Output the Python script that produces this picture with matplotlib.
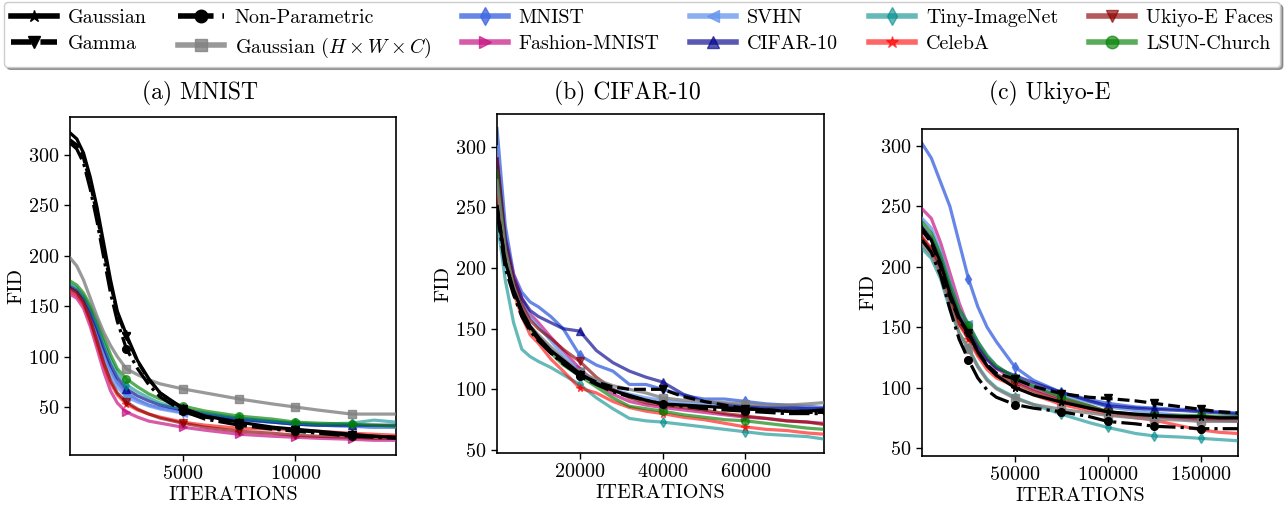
import matplotlib
matplotlib.use("Agg")
import matplotlib.pyplot as plt
from matplotlib.lines import Line2D

plt.rcParams["font.family"] = "serif"
plt.rcParams["font.serif"] = ["cmr10"]
plt.rcParams["mathtext.fontset"] = "cm"
plt.rcParams["axes.formatter.use_mathtext"] = True

# ---- data ----
labels = ["Gaussian", "Gamma", "Non-Parametric", r"Gaussian ($H \times W \times C$)",
          "MNIST", "Fashion-MNIST", "SVHN", "CIFAR-10",
          "Tiny-ImageNet", "CelebA", "Ukiyo-E Faces", "LSUN-Church"]

# (a) MNIST
xa = [0, 300, 600, 900, 1200, 1500, 1800, 2100, 2500, 3000, 3500, 4000, 5000, 6000,
      7500, 9000, 10000, 11000, 12500, 13500, 14470]
gauss_a = [322, 316, 302, 278, 248, 212, 176, 145, 122, 96, 78, 64, 49, 41, 35, 30, 28, 26, 23, 21, 20]
gamma_a = [315, 310, 297, 272, 240, 205, 172, 143, 120, 95, 77, 64, 48, 40, 34, 29, 27, 25, 22, 21, 20]
nonpar_a = [312, 306, 292, 266, 234, 198, 163, 135, 108, 88, 72, 60, 46, 38, 32, 28, 26, 24, 21, 20, 19]
hwc_a = [198, 190, 176, 158, 140, 124, 111, 100, 88, 82, 77, 73, 68, 64, 58, 53, 50, 47, 43, 43, 43]
mnist_a = [168, 164, 156, 142, 124, 104, 87, 74, 64, 57, 52, 49, 45, 42, 38, 35, 33, 32, 31, 30, 30]
fashion_a = [162, 158, 148, 130, 108, 85, 66, 54, 45, 40, 36, 34, 30, 27, 23, 21, 20, 19, 18, 17, 17]
svhn_a = [166, 162, 154, 139, 120, 100, 82, 70, 60, 55, 51, 48, 44, 41, 37, 35, 33, 32, 31, 30, 30]
cifar_a = [170, 166, 158, 145, 128, 109, 92, 79, 68, 61, 56, 52, 47, 43, 38, 35, 33, 32, 32, 32, 32]
tiny_a = [172, 168, 160, 148, 132, 114, 97, 84, 72, 65, 59, 54, 48, 44, 39, 36, 34, 33, 34, 37, 35]
celeba_a = [165, 161, 152, 135, 113, 92, 74, 62, 53, 47, 43, 40, 35, 32, 29, 28, 27, 26, 24, 23, 22]
ukiyo_a = [168, 164, 154, 137, 116, 94, 76, 64, 55, 48, 43, 39, 34, 30, 26, 24, 22, 21, 20, 19, 19]
lsun_a = [175, 171, 163, 151, 136, 119, 102, 88, 78, 70, 63, 58, 51, 46, 41, 38, 35, 34, 33, 32, 31]

# (b) CIFAR-10
xb = [0, 2000, 4000, 6000, 8000, 10000, 13000, 16000, 20000, 24000, 28000, 32000, 36000,
      40000, 45000, 50000, 55000, 60000, 65000, 70000, 75000, 79000]
gauss_b = [250, 205, 182, 165, 152, 143, 132, 124, 113, 105, 99, 95, 91, 88, 87, 86, 85, 84, 83, 82, 82, 83]
gamma_b = [252, 205, 180, 163, 150, 141, 130, 122, 112, 106, 102, 100, 100, 100, 94, 90, 87, 84, 83, 82, 81, 81]
nonpar_b = [246, 200, 178, 160, 148, 140, 130, 121, 111, 104, 98, 94, 91, 88, 86, 84, 83, 82, 81, 80, 80, 80]
hwc_b = [272, 215, 185, 165, 152, 145, 135, 125, 114, 108, 103, 100, 97, 93, 91, 90, 89, 88, 87, 87, 88, 89]
mnist_b = [315, 235, 195, 180, 172, 168, 160, 150, 128, 120, 115, 104, 104, 100, 95, 92, 92, 90, 88, 87, 86, 85]
fashion_b = [295, 225, 195, 175, 162, 155, 143, 132, 117, 105, 96, 90, 87, 85, 83, 81, 79, 77, 76, 74, 73, 72]
svhn_b = [300, 225, 192, 172, 160, 152, 140, 128, 115, 106, 100, 96, 93, 91, 89, 88, 87, 86, 85, 84, 84, 83]
cifar_b = [290, 225, 192, 175, 165, 160, 155, 150, 148, 132, 122, 115, 110, 106, 96, 90, 88, 86, 85, 85, 84, 84]
tiny_b = [240, 190, 155, 133, 127, 123, 118, 112, 104, 93, 84, 76, 74, 73, 71, 69, 67, 65, 63, 62, 61, 59]
celeba_b = [265, 210, 180, 160, 145, 138, 125, 115, 101, 97, 90, 85, 82, 80, 77, 75, 72, 69, 67, 66, 64, 63]
ukiyo_b = [290, 220, 190, 170, 157, 150, 142, 133, 123, 110, 100, 93, 89, 87, 85, 83, 80, 78, 76, 74, 73, 71]
lsun_b = [280, 215, 185, 165, 150, 142, 130, 120, 111, 102, 93, 86, 84, 82, 79, 77, 75, 74, 72, 70, 68, 67]

# (c) Ukiyo-E
xc = [0, 5000, 10000, 15000, 20000, 25000, 30000, 35000, 40000, 50000, 60000, 75000,
      90000, 100000, 115000, 125000, 140000, 150000, 160000, 170000]
gauss_c = [232, 222, 203, 178, 158, 145, 130, 118, 110, 100, 94, 88, 83, 80, 78, 77, 76, 76, 75, 75]
gamma_c = [230, 220, 200, 175, 156, 145, 130, 119, 112, 107, 101, 95, 92, 91, 89, 87, 84, 82, 80, 79]
nonpar_c = [222, 212, 193, 165, 140, 123, 108, 98, 92, 86, 83, 80, 76, 72, 70, 68, 67, 66, 66, 66]
hwc_c = [218, 210, 193, 168, 145, 132, 117, 106, 99, 91, 86, 82, 79, 77, 75, 74, 73, 72, 72, 72]
mnist_c = [302, 290, 270, 250, 220, 190, 167, 150, 138, 117, 106, 96, 90, 87, 84, 83, 82, 81, 80, 79]
fashion_c = [248, 240, 220, 195, 170, 150, 135, 124, 116, 106, 99, 91, 85, 80, 77, 76, 74, 73, 73, 72]
svhn_c = [240, 232, 213, 188, 165, 153, 138, 127, 118, 108, 101, 94, 88, 84, 81, 79, 77, 76, 75, 75]
cifar_c = [233, 224, 206, 182, 160, 148, 134, 123, 116, 110, 104, 96, 89, 85, 83, 82, 81, 80, 79, 78]
tiny_c = [215, 207, 190, 165, 145, 133, 118, 107, 100, 92, 86, 78, 71, 67, 62, 60, 59, 58, 57, 56]
celeba_c = [225, 215, 197, 172, 152, 140, 126, 115, 108, 101, 94, 86, 81, 78, 75, 73, 68, 65, 63, 62]
ukiyo_c = [224, 214, 196, 172, 153, 142, 128, 118, 111, 104, 97, 89, 83, 80, 77, 76, 75, 74, 73, 73]
lsun_c = [237, 228, 210, 186, 165, 152, 138, 126, 118, 108, 101, 92, 85, 80, 78, 77, 77, 77, 76, 76]

# ---- style ----
colors = ["black", "black", "black", "gray", "royalblue", "mediumvioletred",
          "cornflowerblue", "darkblue", "darkcyan", "red", "darkred", "green"]
alphas = [1, 1, 1, 0.8, 0.8, 0.7, 0.75, 0.65, 0.6, 0.6, 0.65, 0.65]
lstyles = ["-", "--", "-.", "-", "-", "-", "-", "-", "-", "-", "-", "-"]
markers = ["*", "v", "o", "s", "d", ">", "<", "^", "d", "*", "v", "o"]
draw_order = [4, 5, 6, 7, 8, 9, 10, 11, 3, 2, 1, 0]

panels = [
    ("(a) MNIST", xa, [gauss_a, gamma_a, nonpar_a, hwc_a, mnist_a, fashion_a, svhn_a,
                       cifar_a, tiny_a, celeba_a, ukiyo_a, lsun_a],
     [8, 12, 14, 16, 18], (0, 14470), (2.4, 337.7), [5000, 10000],
     (70, 117, 396, 455), 200),
    ("(b) CIFAR-10", xb, [gauss_b, gamma_b, nonpar_b, hwc_b, mnist_b, fashion_b, svhn_b,
                          cifar_b, tiny_b, celeba_b, ukiyo_b, lsun_b],
     [8, 13, 17], (0, 79000), (47.5, 327), [20000, 40000, 60000],
     (497, 114, 824, 453), 627),
    ("(c) Ukiyo-E", xc, [gauss_c, gamma_c, nonpar_c, hwc_c, mnist_c, fashion_c, svhn_c,
                         cifar_c, tiny_c, celeba_c, ukiyo_c, lsun_c],
     [5, 9, 11, 13, 15, 17], (0, 170000), (43.4, 314), [50000, 100000, 150000],
     (922, 129, 1238, 456), 1050),
]

W, H = 1284, 512
fig = plt.figure(figsize=(W / 100, H / 100), dpi=100)

for title, x, ys, mev, xlim, ylim, xt, (l, t, r, b), tx in panels:
    ax = fig.add_axes([l / W, 1 - b / H, (r - l) / W, (b - t) / H])
    for k, i in enumerate(draw_order):
        ax.plot(x, ys[i], color=colors[i], alpha=alphas[i], ls=lstyles[i], lw=2.3,
                marker=markers[i], markevery=mev, ms=5.5, zorder=2 + k)
    ax.set_xlim(xlim)
    ax.set_ylim(ylim)
    ax.set_xticks(xt)
    ax.set_yticks([50, 100, 150, 200, 250, 300])
    ax.tick_params(labelsize=14.5, length=4, width=1)
    for s in ax.spines.values():
        s.set_linewidth(1.2)
    ax.set_xlabel("ITERATIONS", fontsize=14.5, labelpad=2)
    ax.set_ylabel("FID", fontsize=14.5, labelpad=2)
    fig.text(tx / W, 1 - 93 / H, title, ha="center", va="center", fontsize=17)

handles = [Line2D([], [], color=colors[i], alpha=alphas[i], ls=lstyles[i], lw=4,
                  marker=markers[i], ms=9) for i in range(12)]
fig.legend(handles, labels, ncol=6, loc="upper left", mode="expand",
           bbox_to_anchor=(4 / W, 1 - 2 / H, 1276 / W, 0), fontsize=14.4,
           frameon=True, fancybox=True, shadow=True, handlelength=2.3,
           borderaxespad=0, borderpad=0.35, labelspacing=0.42, handletextpad=0.55,
           edgecolor="0.8")

fig.savefig("out.png", dpi=100)
